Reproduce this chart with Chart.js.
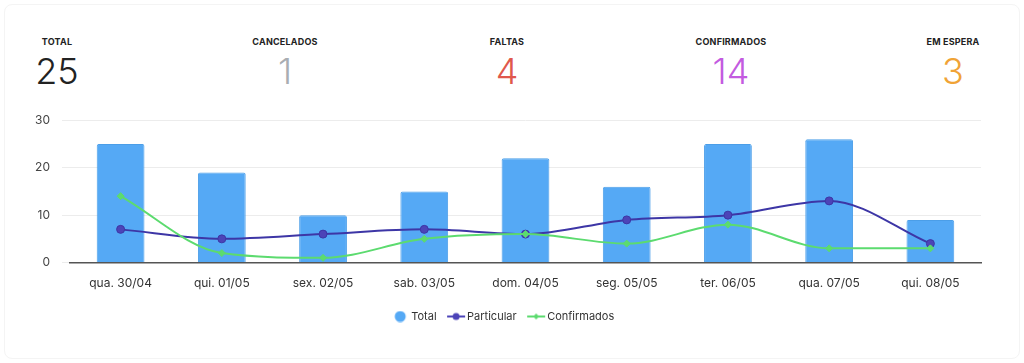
<!DOCTYPE html>
<html>
<head>
<meta charset="utf-8">
<script src="https://cdn.jsdelivr.net/npm/chart.js@4"></script>
<style>
  html, body { margin: 0; padding: 0; background: #fff; }
  body { width: 1024px; height: 363px; font-family: "Inter", "Open Sans", sans-serif; overflow: hidden; }
  .card { position: absolute; left: 4px; top: 4px; width: 1014px; height: 353px; border: 1px solid #f4f4f4; border-radius: 8px; }
  .kpi { position: absolute; top: 36px; transform: translateX(-50%); text-align: center; }
  .kpi-label { font-size: 9px; font-weight: 700; color: #222; letter-spacing: 0.2px; }
  .kpi-num { font-size: 36px; font-weight: 300; line-height: 40px; margin-top: 4px; }
  .grafico { position: absolute; left: 23px; top: 101px; width: 963px; height: 231px; }
</style>
</head>
<body>
<div class="card"></div>
<div id="kpis"></div>
<div class="grafico"><canvas id="grafico-agenda"></canvas></div>
<script>
// Resumo do topo
var kpiNomes   = ["TOTAL", "CANCELADOS", "FALTAS", "CONFIRMADOS", "EM ESPERA"];
var kpiValores = [25, 1, 4, 14, 3];
var kpiCores   = ["#222222", "#a9adb2", "#e0584c", "#c35be0", "#f0a336"];
var kpiPosX    = [57, 285, 507, 731, 953];

// Dados do grafico
var dias        = ["qua. 30/04", "qui. 01/05", "sex. 02/05", "sab. 03/05", "dom. 04/05", "seg. 05/05", "ter. 06/05", "qua. 07/05", "qui. 08/05"];
var totais      = [25, 19, 10, 15, 22, 16, 25, 26, 9];
var particular  = [7, 5, 6, 7, 6, 9, 10, 13, 4];
var confirmados = [14, 2, 1, 5, 6, 4, 8, 3, 3];
var ticksY      = [0, 10, 20, 30];

var container = document.getElementById("kpis");
kpiNomes.forEach(function (nome, i) {
    container.innerHTML +=
        '<div class="kpi" style="left:' + kpiPosX[i] + 'px">' +
            '<div class="kpi-label">' + nome + "</div>" +
            '<div class="kpi-num" style="color:' + kpiCores[i] + '">' + kpiValores[i] + "</div>" +
        "</div>";
});

// icone da legenda: bolinha (barra) ou linha com marcador
function iconeLegenda(cor, tipo) {
    var c = document.createElement("canvas");
    c.width = 20; c.height = 12;
    var ctx = c.getContext("2d");
    ctx.fillStyle = cor;
    ctx.strokeStyle = cor;
    if (tipo === "bolinha") {
        ctx.beginPath(); ctx.arc(10, 6, 5.5, 0, Math.PI * 2); ctx.fill();
    } else {
        ctx.lineWidth = 2;
        ctx.beginPath(); ctx.moveTo(1, 6); ctx.lineTo(19, 6); ctx.stroke();
        ctx.beginPath();
        if (tipo === "circulo") {
            ctx.arc(10, 6, 3.5, 0, Math.PI * 2);
        } else {
            ctx.moveTo(10, 3); ctx.lineTo(13, 6); ctx.lineTo(10, 9); ctx.lineTo(7, 6); ctx.closePath();
        }
        ctx.fill();
    }
    return c;
}

var fonte = "'Inter', 'Open Sans', sans-serif";

new Chart(document.getElementById("grafico-agenda"), {
    type: "bar",
    data: {
        labels: dias,
        datasets: [
            {
                label: "Total",
                data: totais,
                backgroundColor: "#55a9f5",
                borderColor: "#4b9ee8",
                borderWidth: 1,
                borderRadius: 2,
                borderSkipped: "bottom",
                barPercentage: 0.59,
                categoryPercentage: 0.8,
                order: 2
            },
            {
                type: "line",
                label: "Particular",
                data: particular,
                borderColor: "#3d36a6",
                backgroundColor: "#4c44b8",
                borderWidth: 2,
                pointRadius: 4,
                pointBorderWidth: 1,
                cubicInterpolationMode: "monotone",
                order: 1
            },
            {
                type: "line",
                label: "Confirmados",
                data: confirmados,
                borderColor: "#5cdb6f",
                backgroundColor: "#5cdb6f",
                borderWidth: 2,
                pointStyle: "rectRot",
                pointRadius: 3.5,
                pointBorderWidth: 1,
                cubicInterpolationMode: "monotone",
                order: 0
            }
        ]
    },
    options: {
        responsive: true,
        maintainAspectRatio: false,
        animation: false,
        layout: { padding: { left: 0, right: 0, top: 4, bottom: 0 } },
        plugins: {
            legend: {
                position: "bottom",
                labels: {
                    usePointStyle: true,
                    color: "#333",
                    font: { family: fonte, size: 11 },
                    padding: 14,
                    generateLabels: function (chart) {
                        var icones = [
                            iconeLegenda("#55a9f5", "bolinha"),
                            iconeLegenda("#4c44b8", "circulo"),
                            iconeLegenda("#5cdb6f", "losango")
                        ];
                        return chart.data.datasets.map(function (ds, i) {
                            return {
                                text: ds.label,
                                pointStyle: icones[i],
                                fontColor: "#333",
                                hidden: false,
                                lineWidth: 0,
                                datasetIndex: i
                            };
                        });
                    }
                }
            },
            tooltip: { enabled: false }
        },
        scales: {
            x: {
                grid: { display: false },
                border: { color: "#555", width: 1.5 },
                ticks: { color: "#333", font: { family: fonte, size: 12 }, padding: 6 }
            },
            y: {
                min: 0,
                max: 30,
                afterBuildTicks: function (axis) {
                    axis.ticks = ticksY.map(function (v) { return { value: v }; });
                },
                grid: { color: "#ececec" },
                border: { display: false },
                ticks: { color: "#444", font: { family: fonte, size: 12 }, padding: 12 }
            }
        }
    }
});
</script>
</body>
</html>
